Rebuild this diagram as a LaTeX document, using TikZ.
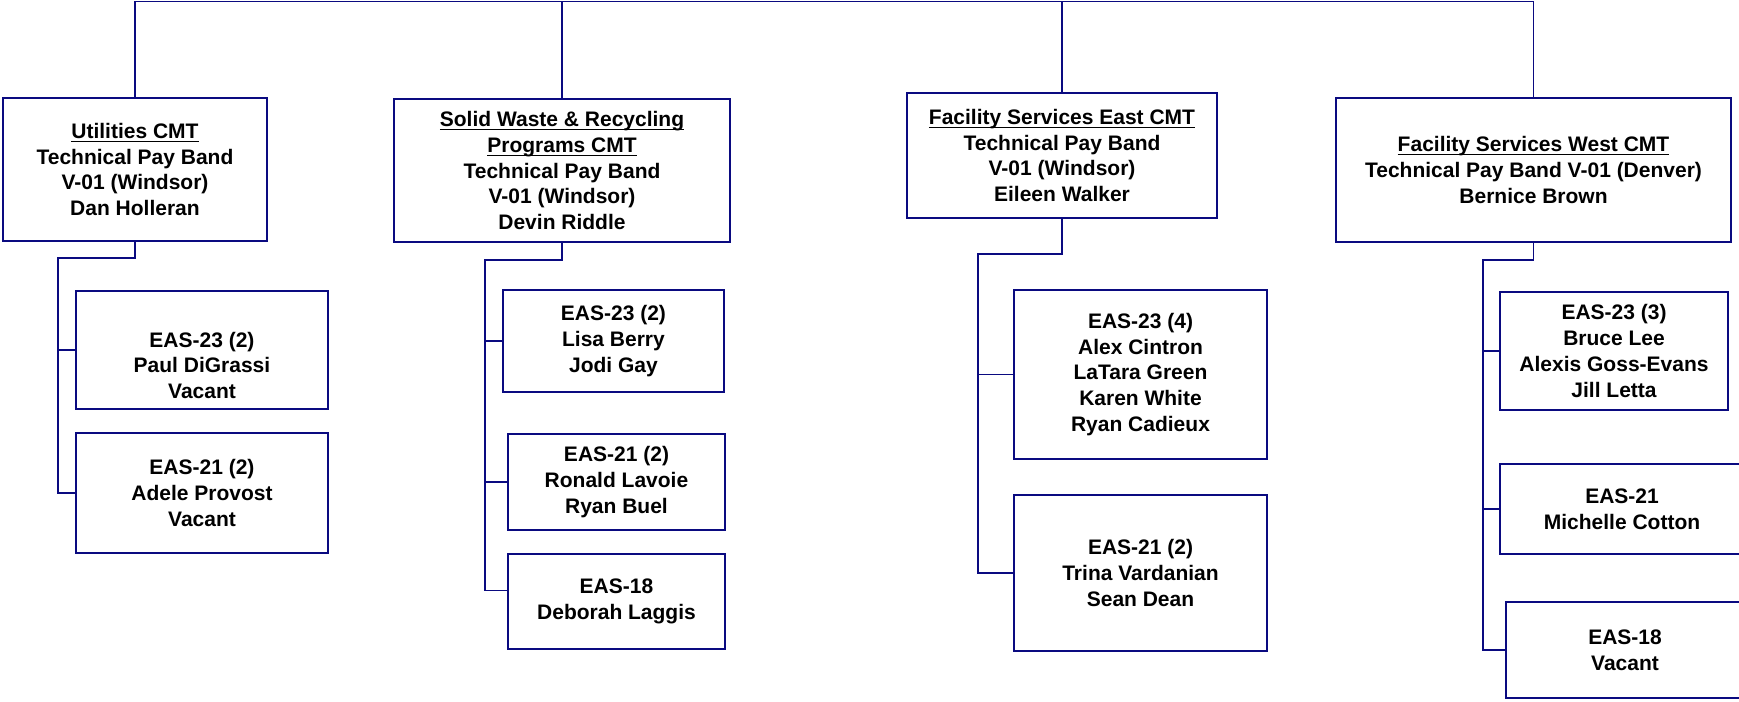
\documentclass[tikz,border=0pt]{standalone}
\usepackage{amsmath}
\usepackage{fontspec}
\setmainfont{Liberation Sans}
\usepackage{tikz}

\definecolor{orgline}{RGB}{10,10,128}
\newcommand{\ulhead}[1]{\underline{\smash[b]{#1}}}

\begin{document}
\begin{tikzpicture}[x=1pt, y=-1pt,
    every node/.style={font=\fontsize{21}{25.7}\selectfont\bfseries, align=center, inner sep=0pt},
    post/.style={draw=orgline, line width=1.6pt},
    link/.style={draw=orgline, line width=1.6pt}]
                    \useasboundingbox (0, 0) rectangle (1739, 701);
                    \clip (0, 0) rectangle (1739, 701);
                    \coordinate (top) at (924, 1.5);
                    \begin{scope}[shift={(135, 0)}]
                        \node[post, minimum width=264pt, minimum height=143pt] (util) at (0, 169.5) {\ulhead{Utilities CMT}\\Technical Pay Band\\V-01 (Windsor)\\Dan Holleran};
                        \coordinate (utilbus) at (-77, 258);
                        \node[post, minimum width=252pt, minimum height=118pt] (util23) at (67, 350) {\rule{0pt}{46pt}EAS-23 (2)\\Paul DiGrassi\\Vacant};
                        \node[post, minimum width=252pt, minimum height=120pt] (util21) at (67, 493) {EAS-21 (2)\\Adele Provost\\Vacant};
                    \end{scope}
                    \begin{scope}[shift={(562, 0)}]
                        \node[post, minimum width=336pt, minimum height=143pt] (swr) at (0, 170.5) {\ulhead{Solid Waste \& Recycling}\\\ulhead{Programs CMT}\\Technical Pay Band\\V-01 (Windsor)\\Devin Riddle};
                        \coordinate (swrbus) at (-77, 260);
                        \node[post, minimum width=221pt, minimum height=102pt] (swr23) at (51.5, 341) {EAS-23 (2)\\Lisa Berry\\Jodi Gay};
                        \node[post, minimum width=217pt, minimum height=96pt] (swr21) at (54.5, 482) {EAS-21 (2)\\Ronald Lavoie\\Ryan Buel};
                        \node[post, minimum width=217pt, minimum height=95pt] (swr18) at (54.5, 601.5) {EAS-18\\Deborah Laggis};
                    \end{scope}
                    \begin{scope}[shift={(1062, 0)}]
                        \node[post, minimum width=310pt, minimum height=125pt] (efs) at (0, 155.5) {\ulhead{Facility Services East CMT}\\Technical Pay Band\\V-01 (Windsor)\\Eileen Walker};
                        \coordinate (efsbus) at (-84, 254);
                        \node[post, minimum width=253pt, minimum height=169pt] (efs23) at (78.5, 374.5) {EAS-23 (4)\\Alex Cintron\\LaTara Green\\Karen White\\Ryan Cadieux};
                        \node[post, minimum width=253pt, minimum height=156pt] (efs21) at (78.5, 573) {EAS-21 (2)\\Trina Vardanian\\Sean Dean};
                    \end{scope}
                    \begin{scope}[shift={(1533.5, 0)}]
                        \node[post, minimum width=395pt, minimum height=144pt] (wfs) at (0, 170) {\ulhead{Facility Services West CMT}\\Technical Pay Band V-01 (Denver)\\Bernice Brown};
                        \coordinate (wfsbus) at (-50.5, 260);
                        \node[post, minimum width=228pt, minimum height=118pt] (wfs23) at (80.5, 351) {EAS-23 (3)\\Bruce Lee\\Alexis Goss-Evans\\Jill Letta};
                        \node[post, minimum width=244pt, minimum height=90pt] (wfs21) at (88.5, 509) {EAS-21\\Michelle Cotton};
                        \node[post, minimum width=238pt, minimum height=96pt] (wfs18) at (91.5, 650) {EAS-18\\Vacant};
                    \end{scope}
                    % top bar
                    \draw[link] (util.north) |- (top) -| (wfs.north);
                    \draw[link] (swr.north) -- (swr.north |- top);
                    \draw[link] (efs.north) -- (efs.north |- top);
                    % teams
                    \draw[link] (util.south) |- (utilbus) |- (util23.west);
                    \draw[link] (utilbus) |- (util21.west);
                    \draw[link] (swr.south) |- (swrbus) |- (swr23.west);
                    \draw[link] (swrbus) |- (swr21.west);
                    \draw[link] (swrbus) |- ([yshift=11pt]swr18.west);
                    \draw[link] (efs.south) |- (efsbus) |- (efs23.west);
                    \draw[link] (efsbus) |- (efs21.west);
                    \draw[link] (wfs.south) |- (wfsbus) |- (wfs23.west);
                    \draw[link] (wfsbus) |- (wfs21.west);
                    \draw[link] (wfsbus) |- (wfs18.west);
                \end{tikzpicture}
\end{document}
